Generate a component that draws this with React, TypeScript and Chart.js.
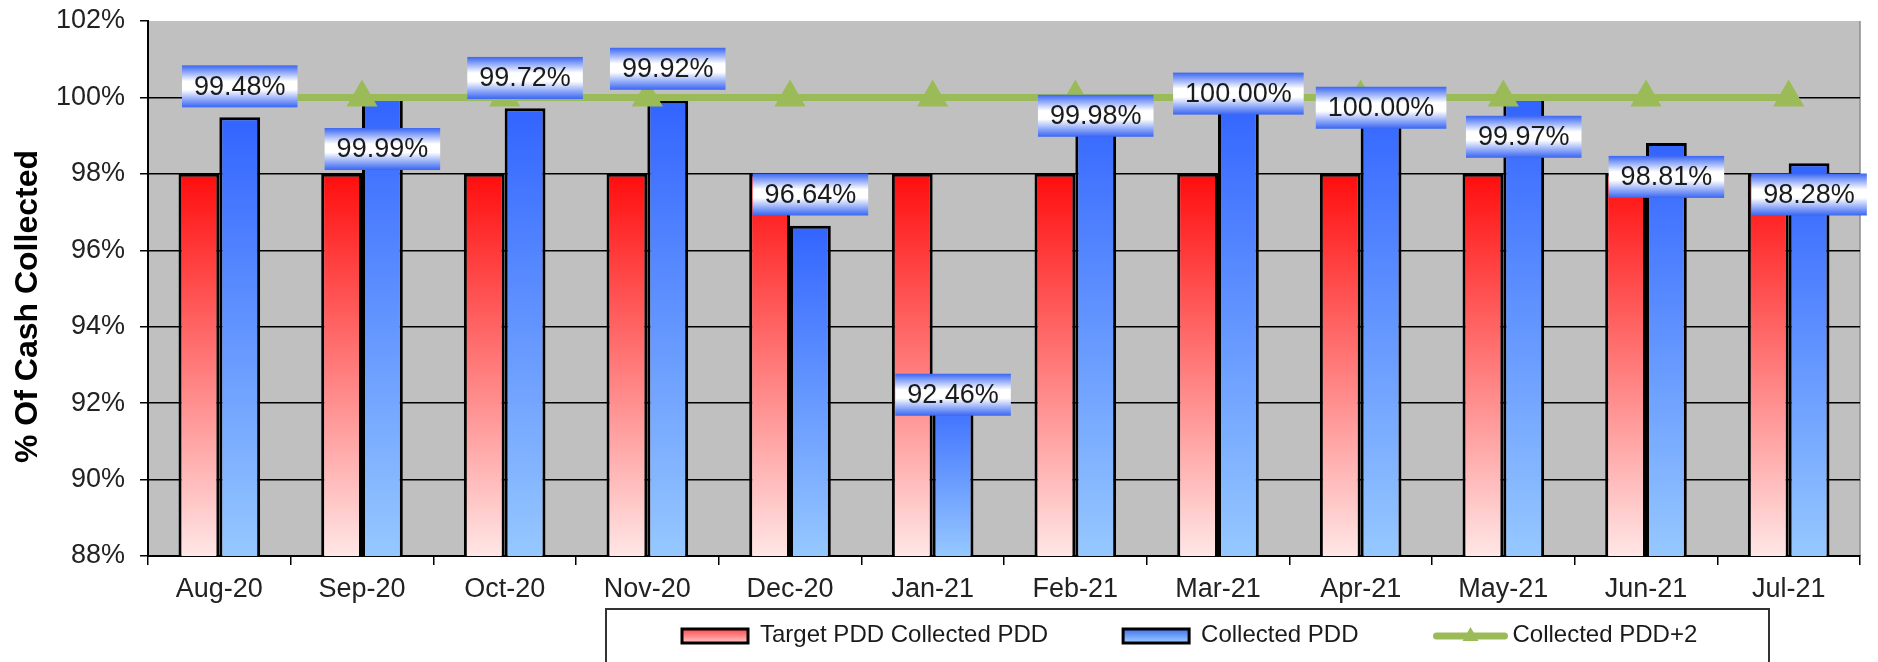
import React, { useEffect, useRef } from 'react';
import { Chart, registerables } from 'chart.js';

Chart.register(...registerables);

const FONT = '"Liberation Sans", Arial, Helvetica, sans-serif';

const categories = ['Aug-20', 'Sep-20', 'Oct-20', 'Nov-20', 'Dec-20', 'Jan-21', 'Feb-21', 'Mar-21', 'Apr-21', 'May-21', 'Jun-21', 'Jul-21'];
const targetValues = [98, 98, 98, 98, 98, 98, 98, 98, 98, 98, 98, 98];
const collectedValues = [99.48, 99.99, 99.72, 99.92, 96.64, 92.46, 99.98, 100.0, 100.0, 99.97, 98.81, 98.28];
const plus2Values = [100, 100, 100, 100, 100, 100, 100, 100, 100, 100, 100, 100];
// vertical anchor (in % units) where each data label box is centred, as placed in the source chart
const labelAnchors = [100.29, 98.65, 100.51, 100.75, 97.46, 92.22, 99.52, 100.1, 99.73, 98.97, 97.92, 97.46];
const yMin = 88;
const yMax = 102;
const yStep = 2;
const yTitle = '% Of Cash Collected';

const seriesNames = ['Target PDD Collected PDD', 'Collected PDD', 'Collected PDD+2'];

const RED_TOP = '#ff0d0d';
const RED_BOTTOM = '#ffe6e6';
const BLUE_TOP = '#3264ff';
const BLUE_BOTTOM = '#96c8ff';
const GREEN = '#9bbb59';

function barGradient(top: string, bottom: string) {
  return (ctx: any) => {
    const chart = ctx.chart;
    const area = chart.chartArea;
    if (!area || ctx.type !== 'data') return top;
    const y = chart.scales.y;
    const yTop = y.getPixelForValue(ctx.raw);
    const yBottom = area.bottom;
    const g = chart.ctx.createLinearGradient(0, yTop, 0, Math.max(yBottom, yTop + 1));
    g.addColorStop(0, top);
    g.addColorStop(1, bottom);
    return g;
  };
}

const backgroundPlugin = {
  id: 'plotBackground',
  beforeDraw(chart: any) {
    const { ctx, chartArea: a } = chart;
    ctx.save();
    ctx.fillStyle = '#c0c0c0';
    ctx.fillRect(a.left, a.top, a.right - a.left, a.bottom - a.top);
    ctx.strokeStyle = '#8c8c8c';
    ctx.lineWidth = 1.5;
    ctx.beginPath();
    ctx.moveTo(a.right, a.top);
    ctx.lineTo(a.right, a.bottom);
    ctx.stroke();
    ctx.restore();
  },
  afterDraw(chart: any) {
    const { ctx, chartArea: a } = chart;
    ctx.save();
    ctx.translate(28, (a.top + a.bottom) / 2 + 18);
    ctx.rotate(-Math.PI / 2);
    ctx.font = `bold 32px ${FONT}`;
    ctx.fillStyle = '#000';
    ctx.textAlign = 'center';
    ctx.textBaseline = 'middle';
    ctx.fillText(yTitle, 0, 0);
    ctx.restore();
  },
};

const dataLabelPlugin = {
  id: 'boxLabels',
  afterDatasetsDraw(chart: any) {
    const { ctx } = chart;
    const meta = chart.getDatasetMeta(1);
    const yScale = chart.scales.y;
    ctx.save();
    ctx.font = `27px ${FONT}`;
    ctx.textAlign = 'center';
    ctx.textBaseline = 'middle';
    meta.data.forEach((bar: any, i: number) => {
      const text = collectedValues[i].toFixed(2) + '%';
      const cx = bar.x;
      const cy = yScale.getPixelForValue(labelAnchors[i]);
      const w = ctx.measureText(text).width + 24;
      const h = 42;
      const top = cy - h / 2;
      const g = ctx.createLinearGradient(0, top, 0, top + h);
      g.addColorStop(0, '#3a66f2');
      g.addColorStop(0.38, '#ffffff');
      g.addColorStop(0.58, '#ffffff');
      g.addColorStop(0.85, '#7d9bf7');
      g.addColorStop(1, '#3a66f2');
      ctx.fillStyle = g;
      ctx.fillRect(cx - w / 2, top, w, h);
      ctx.fillStyle = '#1a1a1a';
      ctx.fillText(text, cx, cy + 1);
    });
    ctx.restore();
  },
};

const legendPlugin = {
  id: 'framedLegend',
  afterDraw(chart: any) {
    const { ctx } = chart;
    const frameLeft = 606;
    const frameTop = 609;
    const frameRight = 1769;
    const cy = 636;
    ctx.save();
    ctx.strokeStyle = '#333333';
    ctx.lineWidth = 2;
    ctx.strokeRect(frameLeft, frameTop, frameRight - frameLeft, 100);
    ctx.font = `24px ${FONT}`;
    ctx.textBaseline = 'alphabetic';
    ctx.textAlign = 'left';
    let x = 682;
    const swatches = [
      ['#ff4a4a', '#ffc8c8'],
      ['#3f72f0', '#a0d0ff'],
    ];
    chart.data.datasets.forEach((ds: any, i: number) => {
      let textX;
      if (ds.type === 'line') {
        const len = 74;
        ctx.strokeStyle = GREEN;
        ctx.lineWidth = 7;
        ctx.lineCap = 'round';
        ctx.beginPath();
        ctx.moveTo(x + 3, cy);
        ctx.lineTo(x + len - 3, cy);
        ctx.stroke();
        ctx.fillStyle = GREEN;
        ctx.beginPath();
        const mx = x + len / 2;
        ctx.moveTo(mx, cy - 9);
        ctx.lineTo(mx + 8, cy + 5);
        ctx.lineTo(mx - 8, cy + 5);
        ctx.closePath();
        ctx.fill();
        textX = x + len + 5;
      } else {
        const bw = 66;
        const bh = 14;
        const g = ctx.createLinearGradient(0, cy - bh / 2, 0, cy + bh / 2);
        g.addColorStop(0, swatches[i][0]);
        g.addColorStop(1, swatches[i][1]);
        ctx.fillStyle = g;
        ctx.fillRect(x, cy - bh / 2, bw, bh);
        ctx.strokeStyle = '#000';
        ctx.lineWidth = 3;
        ctx.strokeRect(x, cy - bh / 2, bw, bh);
        textX = x + bw + 12;
      }
      ctx.fillStyle = '#1a1a1a';
      ctx.fillText(ds.label, textX, cy + 6);
      x = textX + ctx.measureText(ds.label).width + 75;
    });
    ctx.restore();
  },
};

export default function App() {
  const canvasRef = useRef<HTMLCanvasElement | null>(null);

  useEffect(() => {
    if (!canvasRef.current) return;
    const chart = new Chart(canvasRef.current, {
      type: 'bar',
      data: {
        labels: categories,
        datasets: [
          {
            type: 'bar',
            label: seriesNames[0],
            data: targetValues,
            backgroundColor: barGradient(RED_TOP, RED_BOTTOM),
            borderColor: '#000',
            borderWidth: 3,
            borderSkipped: 'bottom',
            categoryPercentage: 0.572,
            barPercentage: 1.0,
            order: 1,
          },
          {
            type: 'bar',
            label: seriesNames[1],
            data: collectedValues,
            backgroundColor: barGradient(BLUE_TOP, BLUE_BOTTOM),
            borderColor: '#000',
            borderWidth: 3,
            borderSkipped: 'bottom',
            categoryPercentage: 0.572,
            barPercentage: 1.0,
            order: 1,
          },
          {
            type: 'line',
            label: seriesNames[2],
            data: plus2Values,
            borderColor: GREEN,
            borderWidth: 7,
            backgroundColor: GREEN,
            pointStyle: 'triangle',
            pointRadius: 18,
            pointBackgroundColor: GREEN,
            pointBorderColor: GREEN,
            pointBorderWidth: 0,
            tension: 0,
            fill: false,
            order: 0,
          },
        ] as any,
      },
      options: {
        responsive: false,
        animation: false,
        events: [],
        layout: { padding: { top: 21, right: 6, bottom: 0, left: 0 } },
        plugins: {
          legend: { display: false },
          tooltip: { enabled: false },
        },
        scales: {
          x: {
            type: 'category',
            offset: true,
            grid: {
              offset: true,
              drawOnChartArea: false,
              drawTicks: true,
              tickLength: 9,
              color: '#000',
              lineWidth: 1.5,
            },
            border: { color: '#000', width: 2 },
            ticks: {
              font: { family: FONT, size: 27 },
              color: '#222',
              padding: 8,
              maxRotation: 0,
              autoSkip: false,
            },
            afterFit: (s: any) => {
              s.height = 106;
              s.paddingLeft = 0;
              s.paddingRight = 0;
            },
          },
          y: {
            min: yMin,
            max: yMax,
            ticks: {
              stepSize: yStep,
              callback: (v: any) => `${v}%`,
              font: { family: FONT, size: 27 },
              color: '#222',
              padding: 15,
            },
            grid: {
              color: (c: any) => (c.tick && c.tick.value === yMax ? 'rgba(0,0,0,0)' : '#000'),
              tickColor: '#000',
              lineWidth: 1.5,
              drawTicks: true,
              tickLength: 8,
            },
            border: { color: '#000', width: 2 },
            title: { display: false },
            afterFit: (s: any) => {
              s.width = 148;
              s.paddingTop = 0;
              s.paddingBottom = 0;
            },
          },
        },
      } as any,
      plugins: [backgroundPlugin, dataLabelPlugin, legendPlugin],
    });
    return () => chart.destroy();
  }, []);

  return (
    <div style={{ position: 'absolute', left: 0, top: 0, width: 1878, height: 662, background: '#fff', overflow: 'hidden' }}>
      <canvas ref={canvasRef} width={1878} height={662} style={{ display: 'block' }} />
    </div>
  );
}
